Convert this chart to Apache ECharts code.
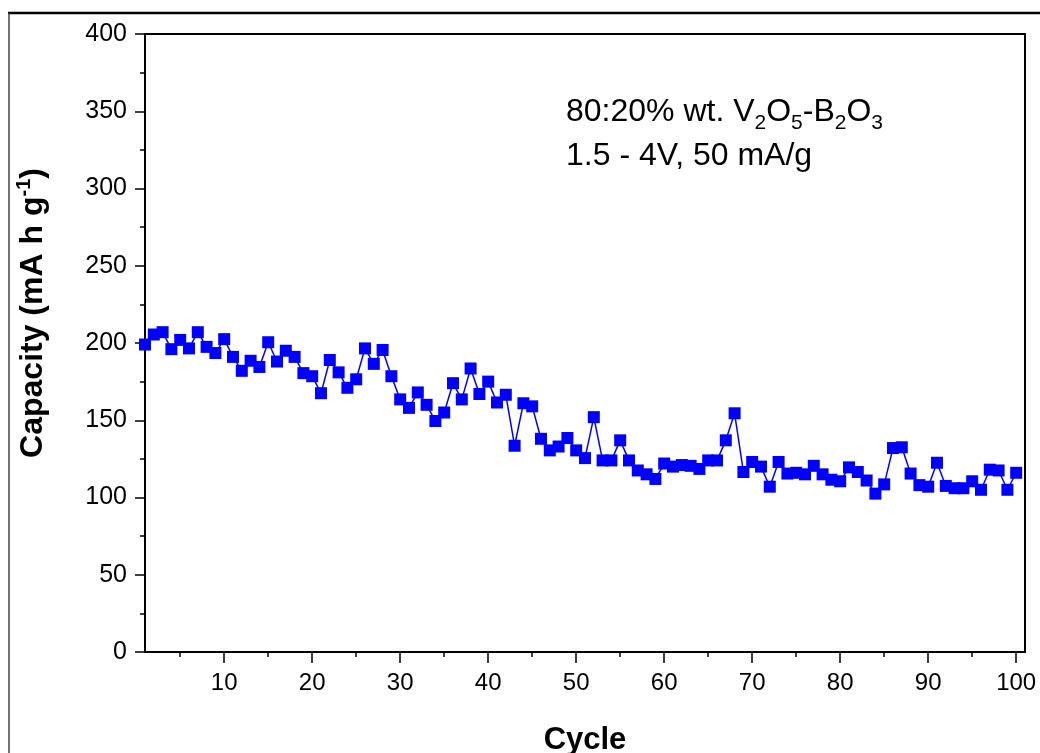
<!DOCTYPE html>
<html>
<head>
<meta charset="utf-8">
<script src="https://cdn.jsdelivr.net/npm/echarts@6/dist/echarts.min.js"></script>
<style>
  html, body { margin: 0; padding: 0; background: #fff; }
  #chart { width: 1040px; height: 753px; }
</style>
</head>
<body>
<div id="chart"></div>
<script>
// Cycle number and discharge capacity (mA h g^-1)
const cycles = [
  1, 2, 3, 4, 5, 6, 7, 8, 9, 10,
  11, 12, 13, 14, 15, 16, 17, 18, 19, 20,
  21, 22, 23, 24, 25, 26, 27, 28, 29, 30,
  31, 32, 33, 34, 35, 36, 37, 38, 39, 40,
  41, 42, 43, 44, 45, 46, 47, 48, 49, 50,
  51, 52, 53, 54, 55, 56, 57, 58, 59, 60,
  61, 62, 63, 64, 65, 66, 67, 68, 69, 70,
  71, 72, 73, 74, 75, 76, 77, 78, 79, 80,
  81, 82, 83, 84, 85, 86, 87, 88, 89, 90,
  91, 92, 93, 94, 95, 96, 97, 98, 99, 100
];
const capacity = [
  199, 205.5, 207, 196, 202, 196.5, 207, 197.5, 193.5, 202.5,
  191, 182, 188.5, 184.5, 200.5, 188, 195, 191, 180.5, 178.5,
  167.5, 189, 181, 171, 176.5, 196.5, 186.5, 195.5, 178.5, 163.5,
  158, 168, 160, 149.5, 155, 174, 163.5, 183.5, 167, 175,
  161.5, 166.5, 133.5, 161, 159, 138, 130.5, 133, 138.5, 130.5,
  125.5, 152, 124, 124, 137, 124, 117.5, 115, 112, 122,
  120, 121, 120.5, 118.5, 124, 124, 137, 154.5, 116.5, 123,
  120, 107, 123, 115.5, 116, 115, 120.5, 115, 111.5, 110.5,
  119.5, 116.5, 111, 102.5, 108.5, 132, 132.5, 115.5, 108, 107,
  122.5, 107.5, 106, 106, 110.5, 105, 118, 117.5, 105, 116
];
const xMajorTicks = [10, 20, 30, 40, 50, 60, 70, 80, 90, 100];
const xMinorTicks = [5, 15, 25, 35, 45, 55, 65, 75, 85, 95];

const points = cycles.map((c, i) => [c, capacity[i]]);

const FONT = '"Liberation Sans", Arial, sans-serif';
const chart = echarts.init(document.getElementById('chart'), null, { renderer: 'canvas' });

chart.setOption({
  backgroundColor: '#ffffff',
  animation: false,
  grid: {
    left: 145, right: 15, top: 34, bottom: 101,
    outerBoundsMode: 'none', containLabel: false,
    show: true, borderColor: '#000', borderWidth: 2, backgroundColor: 'transparent'
  },
  xAxis: [
    {
      type: 'value', min: 1, max: 101,
      name: 'Cycle', nameLocation: 'middle', nameGap: 73,
      nameTextStyle: { fontFamily: FONT, fontSize: 31, fontWeight: 'bold', color: '#000' },
      axisLine: { show: true, onZero: false, lineStyle: { color: '#000', width: 2 } },
      axisTick: { show: true, length: 11, customValues: xMajorTicks, lineStyle: { color: '#000', width: 1.5 } },
      axisLabel: { show: true, customValues: xMajorTicks, margin: 19, fontFamily: FONT, fontSize: 24, color: '#000' },
      splitLine: { show: false }
    },
    {
      type: 'value', min: 1, max: 101, position: 'bottom',
      axisLine: { show: false, onZero: false },
      axisTick: { show: true, length: 5, customValues: xMinorTicks, lineStyle: { color: '#000', width: 1.5 } },
      axisLabel: { show: false },
      splitLine: { show: false }
    }
  ],
  yAxis: {
    type: 'value', min: 0, max: 400, interval: 50,
    axisLine: { show: true, lineStyle: { color: '#000', width: 2 } },
    axisTick: { show: true, length: 10, lineStyle: { color: '#000', width: 1.5 } },
    minorTick: { show: true, splitNumber: 2, length: 5, lineStyle: { color: '#000', width: 1.5 } },
    axisLabel: { margin: 18, fontFamily: FONT, fontSize: 25, color: '#000' },
    splitLine: { show: false }
  },
  series: [{
    type: 'line',
    data: points,
    xAxisIndex: 0,
    symbol: 'rect',
    symbolSize: 12,
    showAllSymbol: true,
    lineStyle: { color: '#0000ff', width: 1.5 },
    itemStyle: { color: '#0000ff' }
  }],
  graphic: [
    // frame lines around the figure
    { type: 'line', shape: { x1: 8, y1: 13, x2: 1040, y2: 13 }, style: { stroke: '#000', lineWidth: 2.5 }, silent: true },
    { type: 'line', shape: { x1: 9, y1: 13, x2: 9, y2: 753 }, style: { stroke: '#444', lineWidth: 1.5 }, silent: true },
    // y axis title, rotated
    {
      type: 'text', x: 33, y: 313, rotation: Math.PI / 2,
      style: {
        text: 'Capacity (mA h g{sup|-1})',
        fontFamily: FONT, fontSize: 32, fontWeight: 'bold', fill: '#000',
        align: 'center', verticalAlign: 'middle', lineHeight: 38,
        rich: {
          sup: { fontFamily: FONT, fontSize: 20, fontWeight: 'bold', fill: '#000', lineHeight: 17, verticalAlign: 'top' }
        }
      }
    },
    // test conditions annotation
    {
      type: 'text', left: 566, top: 90,
      style: {
        text: '80:20% wt. V{sub|2}O{sub|5}-B{sub|2}O{sub|3}\n1.5 - 4V, 50 mA/g',
        fontFamily: FONT, fontSize: 32, fill: '#000', lineHeight: 44,
        rich: {
          sub: { fontFamily: FONT, fontSize: 21, fill: '#000', lineHeight: 29, verticalAlign: 'bottom' }
        }
      }
    }
  ]
});
</script>
</body>
</html>
